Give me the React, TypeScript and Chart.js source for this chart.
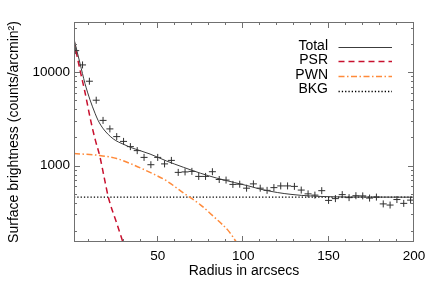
import React, { useEffect, useRef } from "react";
import { Chart, registerables } from "chart.js";

Chart.register(...registerables);

// ---- data ----
const RADII = [2, 6, 10, 14, 18, 22, 26, 30, 34, 38, 42, 46, 50, 54, 58, 62, 66, 70, 74, 78, 82, 86, 90, 94, 98, 102, 106, 110, 114, 118, 122, 126, 130, 134, 138, 142, 146, 150, 154, 158, 162, 166, 170, 174, 178, 182, 186, 190, 194, 198];
const BRIGHTNESS = [17030, 11970, 8010, 5015, 3048, 2472, 2044, 1816, 1597, 1447, 1224, 1022, 1224, 1043, 1137, 846, 856, 867, 766, 766, 860, 710, 700, 629, 632, 573, 637, 573, 543, 581, 606, 606, 599, 547, 498, 483, 539, 424, 443, 489, 454, 476, 474, 449, 460, 389, 378, 433, 394, 427];

const TOTAL_R = [1, 4.5, 7.4, 10.4, 13.3, 15.1, 18.2, 24, 30, 34, 40, 45.5, 55, 65, 75, 84.5, 95, 104, 110, 120, 128, 134, 145, 160, 200];
const TOTAL_V = [22700, 12500, 7600, 5050, 3640, 3050, 2470, 1932, 1690, 1570, 1440, 1330, 1123, 960, 829, 735, 658, 600, 560, 515, 492, 480, 468, 461, 459];

const PSR_R = [1, 4.5, 7.4, 10.7, 13.3, 16.2, 18.6, 21.1, 26, 29.5];
const PSR_V = [21600, 10600, 6140, 3085, 1932, 1239, 757, 459, 242, 154];

const PWN_R = [1, 16, 26, 36, 45.5, 55, 65, 75, 83, 92, 96];
const PWN_V = [1345, 1285, 1190, 1015, 846, 690, 510, 380, 282, 194, 152];

const BKG_R = [1, 200];
const BKG_V = [459, 459];

const LEGEND_LABELS = ["Total", "PSR", "PWN", "BKG"];

const X_MIN = 1;
const X_MAX = 200;
const Y_MIN = 152;
const Y_MAX = 34500;
const X_MAJOR = [50, 100, 150, 200];
const X_MINOR = [10, 20, 30, 40, 60, 70, 80, 90, 110, 120, 130, 140, 160, 170, 180, 190];
const Y_MAJOR = [1000, 10000];
const Y_MINOR = [200, 300, 400, 500, 600, 700, 800, 900, 2000, 3000, 4000, 5000, 6000, 7000, 8000, 9000, 20000, 30000];

const FONT = '"Liberation Sans", Arial, Helvetica, sans-serif';
const FRAME = "#707070";

const pts = (xs: number[], ys: number[]) => xs.map((x, i) => ({ x, y: ys[i] }));

const frameTicksPlugin = {
  id: "frameTicks",
  afterDraw(chart: any) {
    const { ctx, chartArea, scales } = chart;
    const { left, right, top, bottom } = chartArea;
    const xs = scales.x;
    const ys = scales.y;
    ctx.save();
    ctx.strokeStyle = FRAME;
    ctx.lineWidth = 1;
    ctx.setLineDash([]);
    ctx.strokeRect(left + 0.5, top + 0.5, right - left - 1, bottom - top - 1);
    const seg = (x1: number, y1: number, x2: number, y2: number) => {
      ctx.beginPath();
      ctx.moveTo(x1, y1);
      ctx.lineTo(x2, y2);
      ctx.stroke();
    };
    const xt = (vals: number[], len: number) => {
      vals.forEach((v) => {
        const p = Math.round(xs.getPixelForValue(v)) - 0.5;
        seg(p, bottom, p, bottom - len);
        seg(p, top, p, top + len);
      });
    };
    const yt = (vals: number[], len: number) => {
      vals.forEach((v) => {
        const p = Math.round(ys.getPixelForValue(v)) + 0.5;
        seg(left, p, left + len, p);
        seg(right, p, right - len, p);
      });
    };
    xt(X_MAJOR, 6);
    xt(X_MINOR, 3);
    yt(Y_MAJOR, 6);
    yt(Y_MINOR, 3);
    ctx.restore();
  },
};

const legendPlugin = {
  id: "sideLegend",
  afterDraw(chart: any) {
    const { ctx } = chart;
    ctx.save();
    ctx.font = `14px ${FONT}`;
    ctx.textAlign = "right";
    ctx.textBaseline = "middle";
    ctx.fillStyle = "#000";
    LEGEND_LABELS.forEach((label, i) => {
      const ds = chart.data.datasets[i];
      const y = 45.7 + i * 14.6;
      ctx.fillText(label, 328, y);
      ctx.strokeStyle = ds.borderColor;
      ctx.lineWidth = ds.borderWidth;
      ctx.setLineDash(ds.borderDash || []);
      ctx.beginPath();
      ctx.moveTo(338.5, Math.round(y + 1) + 0.5);
      ctx.lineTo(392, Math.round(y + 1) + 0.5);
      ctx.stroke();
    });
    ctx.restore();
  },
};

export default function App() {
  const ref = useRef<HTMLCanvasElement | null>(null);

  useEffect(() => {
    if (!ref.current) return;
    const chart = new Chart(ref.current, {
      type: "line",
      data: {
        datasets: [
          {
            label: "Total",
            data: pts(TOTAL_R, TOTAL_V),
            borderColor: "#3c3c3c",
            borderWidth: 1,
            pointRadius: 0,
            cubicInterpolationMode: "monotone",
            fill: false,
          },
          {
            label: "PSR",
            data: pts(PSR_R, PSR_V),
            borderColor: "#c8102e",
            borderWidth: 1.5,
            borderDash: [6, 4],
            pointRadius: 0,
            cubicInterpolationMode: "monotone",
            fill: false,
          },
          {
            label: "PWN",
            data: pts(PWN_R, PWN_V),
            borderColor: "#ff8a3a",
            borderWidth: 1.5,
            borderDash: [6, 2.5, 1.5, 2.5],
            pointRadius: 0,
            cubicInterpolationMode: "monotone",
            fill: false,
          },
          {
            label: "BKG",
            data: pts(BKG_R, BKG_V),
            borderColor: "#000000",
            borderWidth: 1.3,
            borderDash: [1.3, 2],
            pointRadius: 0,
            fill: false,
          },
          {
            label: "Data",
            data: pts(RADII, BRIGHTNESS),
            showLine: false,
            pointStyle: "cross",
            pointRadius: 3.5,
            pointBorderWidth: 1,
            borderColor: "#303030",
            pointBorderColor: "#303030",
          },
        ],
      },
      options: {
        animation: false,
        responsive: false,
        layout: { padding: { top: 22, right: 22, left: 0, bottom: 0 } },
        plugins: { legend: { display: false }, tooltip: { enabled: false } },
        scales: {
          x: {
            type: "linear",
            min: X_MIN,
            max: X_MAX,
            afterBuildTicks: (s: any) => {
              s.ticks = X_MAJOR.map((v) => ({ value: v }));
            },
            afterFit: (s: any) => {
              s.height = 48;
            },
            grid: { display: false, drawTicks: false },
            border: { display: false },
            ticks: {
              font: { family: FONT, size: 13.5 },
              color: "#000",
              padding: 6,
              maxRotation: 0,
              autoSkip: false,
            },
            title: {
              display: true,
              text: "Radius in arcsecs",
              font: { family: FONT, size: 14 },
              color: "#000",
              padding: { top: 0, bottom: 10.5 },
            },
          },
          y: {
            type: "logarithmic",
            min: Y_MIN,
            max: Y_MAX,
            afterBuildTicks: (s: any) => {
              s.ticks = Y_MAJOR.map((v) => ({ value: v }));
            },
            afterFit: (s: any) => {
              s.width = 74;
            },
            grid: { display: false, drawTicks: false },
            border: { display: false },
            ticks: {
              font: { family: FONT, size: 13.5 },
              color: "#000",
              padding: 4,
              autoSkip: false,
              callback: (v: any) => String(v),
            },
            title: {
              display: true,
              text: "Surface brightness (counts/arcmin²)",
              font: { family: FONT, size: 14 },
              color: "#000",
              padding: { top: 6, bottom: 0 },
            },
          },
        },
      },
      plugins: [frameTicksPlugin, legendPlugin],
    } as any);
    return () => chart.destroy();
  }, []);

  return (
    <div style={{ position: "absolute", left: 0, top: 0, width: 436, height: 290, background: "#fff" }}>
      <canvas ref={ref} width={436} height={290} />
    </div>
  );
}
